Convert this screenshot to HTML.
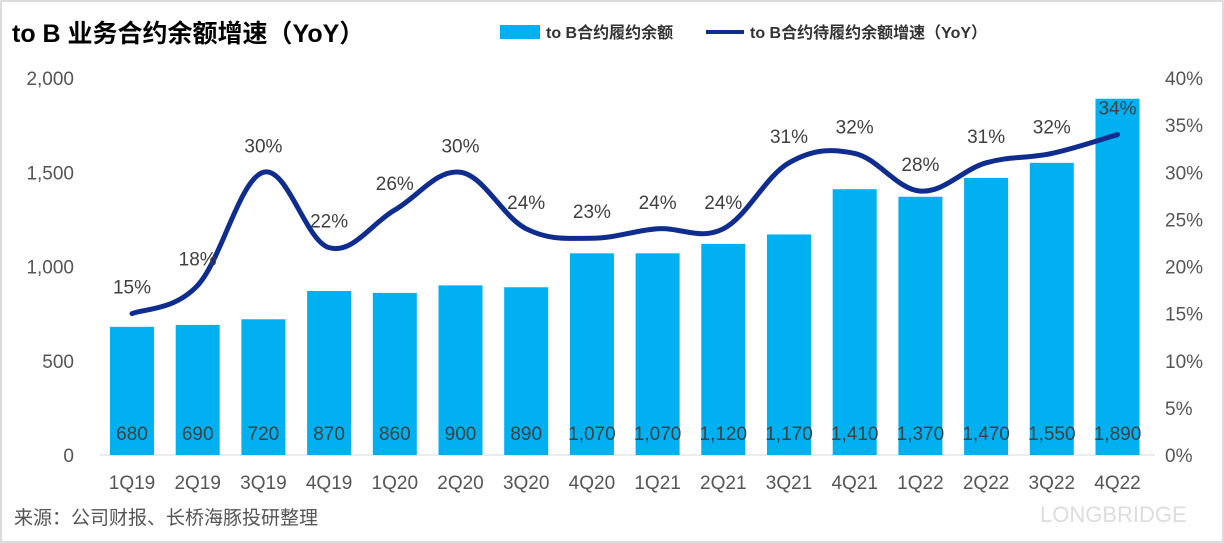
<!DOCTYPE html>
<html><head><meta charset="utf-8">
<style>
body{margin:0;background:#fff;}
svg{display:block;font-family:"Liberation Sans","Noto Sans CJK SC",sans-serif;}
</style></head>
<body>
<svg id="chart" width="1224" height="543" viewBox="0 0 1224 543">
<rect x="1" y="1" width="1222" height="541" fill="#fff" stroke="#d0d0d0" stroke-width="1.5"/>
<text x="12" y="42" font-size="25" font-weight="bold" fill="#000">to B 业务合约余额增速（YoY）</text>
<g>
<rect x="500" y="25" width="40" height="14" fill="#00b0f0"/>
<text x="546" y="38" font-size="16" font-weight="bold" fill="#333">to B合约履约余额</text>
<line x1="706" y1="32" x2="744" y2="32" stroke="#0f2d8f" stroke-width="4"/>
<text x="750" y="38" font-size="16" font-weight="bold" fill="#333">to B合约待履约余额增速（YoY）</text>
</g>
<g id="axes"></g>
<g id="bars"></g>
<g id="line"></g>
<text x="14" y="524" font-size="19" fill="#555">来源：公司财报、长桥海豚投研整理</text>
<text x="1040" y="522" font-size="22" fill="#ddd">LONGBRIDGE</text>
</svg>
<script>
const categories=["1Q19","2Q19","3Q19","4Q19","1Q20","2Q20","3Q20","4Q20","1Q21","2Q21","3Q21","4Q21","1Q22","2Q22","3Q22","4Q22"];
const barValues=[680,690,720,870,860,900,890,1070,1070,1120,1170,1410,1370,1470,1550,1890];
const growthValues=[15,18,30,22,26,30,24,23,24,24,31,32,28,31,32,34];
const leftTicks=[0,500,1000,1500,2000];
const rightTicks=[0,5,10,15,20,25,30,35,40];
const NS="http://www.w3.org/2000/svg";
const y0=455,yTop=78,x0=100,step=65.7,bw=44;
const yL=v=>y0-(v/2000)*(y0-yTop);
const yR=v=>y0-(v/40)*(y0-yTop);
const xC=i=>x0+32+i*step;
const fmt=v=>v.toLocaleString('en-US');
function mk(tag,attrs,parent,txt){const e=document.createElementNS(NS,tag);for(const k in attrs)e.setAttribute(k,attrs[k]);if(txt!=null)e.textContent=txt;parent.appendChild(e);return e;}
const ax=document.getElementById('axes'),bars=document.getElementById('bars'),ln=document.getElementById('line');
leftTicks.forEach(t=>{const e=mk('text',{x:74,y:yL(t)+7,'font-size':19,fill:'#555','text-anchor':'end'},ax,fmt(t));

});
rightTicks.forEach(t=>{const e=mk('text',{x:1165,y:yR(t)+7,'font-size':19,fill:'#555'},ax,t+'%');

});
const base=mk('line',{x1:x0,y1:y0,x2:1155,y2:y0,stroke:'#d9d9d9','stroke-width':1},ax);


categories.forEach((c,i)=>{
const b=mk('rect',{x:xC(i)-bw/2,y:yL(barValues[i]),width:bw,height:y0-yL(barValues[i]),fill:'#00b0f0'},bars);


const v=mk('text',{x:xC(i),y:440,'font-size':19,fill:'#404040','text-anchor':'middle'},bars,fmt(barValues[i]));


const l=mk('text',{x:xC(i),y:489,'font-size':19,fill:'#555','text-anchor':'middle'},ax,c);


});
const pts=growthValues.map((v,i)=>[xC(i),yR(v)]);
let d='M'+pts[0][0]+','+pts[0][1];
const t=0.18;
for(let i=0;i<pts.length-1;i++){const p0=pts[i-1]||pts[i],p1=pts[i],p2=pts[i+1],p3=pts[i+2]||p2;
d+=' C'+(p1[0]+(p2[0]-p0[0])*t)+','+(p1[1]+(p2[1]-p0[1])*t)+' '+(p2[0]-(p3[0]-p1[0])*t)+','+(p2[1]-(p3[1]-p1[1])*t)+' '+p2[0]+','+p2[1];}
const path=mk('path',{d:d,fill:'none',stroke:'#0f2d8f','stroke-width':5,'stroke-linejoin':'round','stroke-linecap':'round'},ln);


growthValues.forEach((v,i)=>{const e=mk('text',{x:xC(i),y:yR(v)-20,'font-size':19,fill:'#404040','text-anchor':'middle'},ln,v+'%');

});
</script>
</body></html>
